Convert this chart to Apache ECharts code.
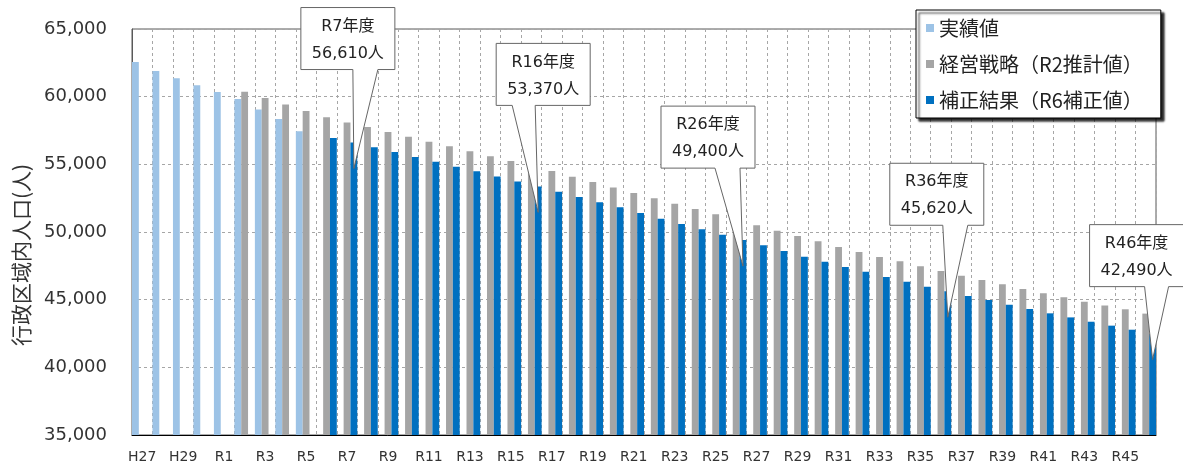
<!DOCTYPE html>
<html>
<head>
<meta charset="utf-8">
<script src="https://cdn.jsdelivr.net/npm/echarts@6/dist/echarts.min.js"></script>
<style>
html,body{margin:0;padding:0;background:#fff;}
#chart{width:1183px;height:466px;}
</style>
</head>
<body>
<div id="chart"></div>
<script>
// ---- data ----
const categories = ['H27','H28','H29','H30',
  'R1','R2','R3','R4','R5','R6','R7','R8','R9','R10',
  'R11','R12','R13','R14','R15','R16','R17','R18','R19','R20',
  'R21','R22','R23','R24','R25','R26','R27','R28','R29','R30',
  'R31','R32','R33','R34','R35','R36','R37','R38','R39','R40',
  'R41','R42','R43','R44','R45','R46'];

const seriesNames = ['実績値', '経営戦略（R2推計値）', '補正結果（R6補正値）'];

// 実績値 H27..R5
const actualValues = [62560, 61900, 61360, 60840, 60340, 59830, 59060, 58350, 57440];

// 経営戦略（R2推計値） R2..R46
const planValues = [60370, 59900, 59430, 58940, 58470, 58100, 57760, 57390, 57040, 56670,
  56330, 55960, 55590, 55250, 54880, 54510, 54090, 53690, 53280, 52880,
  52490, 52090, 51700, 51310, 50900, 50490, 50100, 49700, 49310, 48890,
  48520, 48150, 47830, 47460, 47120, 46770, 46450, 46130, 45790, 45470,
  45170, 44850, 44560, 44290, 43970];

// 補正結果（R6補正値） R6..R46
const revisedValues = [56950, 56610, 56260, 55910, 55540, 55200, 54830, 54480, 54110, 53740,
  53370, 52980, 52590, 52190, 51820, 51400, 50980, 50590, 50200, 49800,
  49400, 49020, 48600, 48180, 47810, 47410, 47070, 46670, 46330, 45960,
  45620, 45270, 44980, 44630, 44310, 43990, 43690, 43370, 43080, 42780,
  42490];

const yTicks = [35000, 40000, 45000, 50000, 55000, 60000, 65000];

const calloutCats = ['R7', 'R16', 'R26', 'R36', 'R46'];

// ---- build full-length series ----
function pad(values, startCat) {
  const start = categories.indexOf(startCat);
  return categories.map((c, i) => {
    const k = i - start;
    return (k >= 0 && k < values.length) ? values[k] : null;
  });
}
const actualData = pad(actualValues, 'H27');
const planData = pad(planValues, 'R2');
const revisedData = pad(revisedValues, 'R6');

// callout layout (positions only, relative to pointer tip)
const calloutLayout = {
  'R7':  {dx: -53, dy: -161, w0: -1,  w1: 24},
  'R16': {dx: -42, dy: -169, w0: -26, w1: -3},
  'R26': {dx: -82, dy: -160, w0: -28, w1: -3},
  'R36': {dx: -58, dy: -154, w0: -5,  w1: 20},
  'R46': {dx: -63, dy: -135, w0: -8,  w1: 16}
};
const calloutData = calloutCats.map(c => {
  const i = categories.indexOf(c);
  return [i, revisedData[i]];
});

const COLORS = ['#9DC3E6', '#A5A5A5', '#0070C0'];
const LATIN = "'DejaVu Sans', 'Noto Sans CJK JP', sans-serif";
const CJK = "'Noto Sans CJK JP', sans-serif";
const gridLine = {show: true, lineStyle: {color: '#a6a6a6', type: [3, 3], width: 1}};

const chart = echarts.init(document.getElementById('chart'), null, {renderer: 'canvas'});
chart.setOption({
  animation: false,
  backgroundColor: '#fff',
  grid: {left: 132, right: 27, top: 29, bottom: 31, show: true, borderColor: '#595959', borderWidth: 1, backgroundColor: 'transparent'},
  legend: {
    data: seriesNames,
    orient: 'vertical',
    left: 916, top: 10,
    padding: [8, 18, 8, 10],
    itemGap: 16,
    itemWidth: 8, itemHeight: 8,
    icon: 'rect',
    backgroundColor: '#fff',
    borderColor: '#000', borderWidth: 1,
    shadowColor: 'rgba(0,0,0,0.85)', shadowBlur: 2, shadowOffsetX: 3, shadowOffsetY: 3,
    textStyle: {fontFamily: CJK, fontSize: 20, color: '#222'},
    selectedMode: false
  },
  xAxis: {
    type: 'category',
    data: categories,
    boundaryGap: true,
    axisLine: {show: true, lineStyle: {color: '#000', width: 1}},
    axisTick: {show: false},
    axisLabel: {interval: 1, margin: 15, fontFamily: LATIN, fontSize: 14, color: '#333'},
    splitLine: Object.assign({interval: 0}, gridLine)
  },
  yAxis: {
    type: 'value',
    min: yTicks[0], max: yTicks[yTicks.length - 1], interval: yTicks[1] - yTicks[0],
    name: '行政区域内人口(人)',
    nameLocation: 'middle', nameRotate: 90, nameGap: 100,
    nameTextStyle: {fontFamily: CJK, fontSize: 21, color: '#333', padding: [0, 46, 0, 0]},
    axisLine: {show: true, lineStyle: {color: '#595959'}},
    axisTick: {show: false},
    axisLabel: {margin: 25, fontFamily: LATIN, fontSize: 18, color: '#333',
      formatter: v => v.toLocaleString('en-US')},
    splitLine: gridLine
  },
  series: [
    {name: seriesNames[0], type: 'bar', data: actualData, itemStyle: {color: COLORS[0]}, barGap: '0%', barCategoryGap: '0%'},
    {name: seriesNames[1], type: 'bar', data: planData, itemStyle: {color: COLORS[1]}, barGap: '0%', barCategoryGap: '0%'},
    {name: seriesNames[2], type: 'bar', data: revisedData, itemStyle: {color: COLORS[2]}, barGap: '0%', barCategoryGap: '0%'},
    {
      name: 'callouts', type: 'custom', data: calloutData, clip: false, z: 10,
      encode: {x: 0, y: 1},
      renderItem: function (params, api) {
        const idx = api.value(0), val = api.value(1);
        const cat = categories[idx];
        const lay = calloutLayout[cat];
        const p = api.coord([idx, val]);
        const catW = api.size([1, 0])[0];
        const tipX = p[0] + catW / 3;
        const tipY = p[1] + 26;
        const W = 94, H = 62;
        const L = tipX + lay.dx, T = tipY + lay.dy, R = L + W, B = T + H;
        return {
          type: 'group',
          children: [
            {type: 'polygon', shape: {points: [[L, T], [R, T], [R, B], [tipX + lay.w1, B], [tipX, tipY], [tipX + lay.w0, B], [L, B]]},
              style: {fill: '#fff', stroke: '#666', lineWidth: 1}},
            {type: 'text', x: (L + R) / 2, y: T + 19,
              style: {text: cat + '年度', fill: '#222', fontFamily: LATIN, fontSize: 16, align: 'center', verticalAlign: 'middle'}},
            {type: 'text', x: (L + R) / 2, y: T + 46,
              style: {text: val.toLocaleString('en-US') + '人', fill: '#222', fontFamily: LATIN, fontSize: 16, align: 'center', verticalAlign: 'middle'}}
          ]
        };
      }
    }
  ]
});
</script>
</body>
</html>
